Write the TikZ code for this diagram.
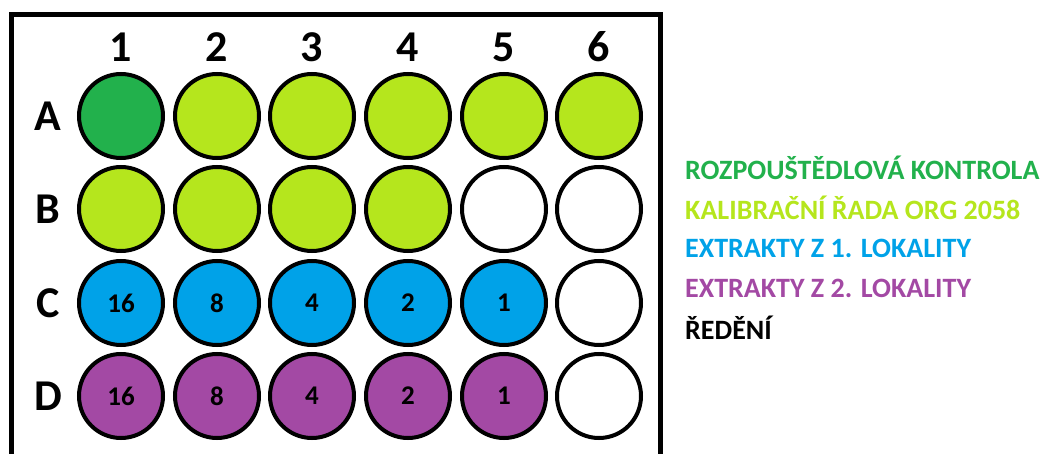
\documentclass[tikz,border=0pt]{standalone}
\usepackage{fontspec}
\setmainfont{Carlito}
\usepackage{xcolor}
\usepackage{tikz}

\definecolor{ctrl}{HTML}{22B14C}
\definecolor{calib}{HTML}{B5E61D}
\definecolor{siteone}{HTML}{00A2E8}
\definecolor{sitetwo}{HTML}{A349A4}

\begin{document}
\begin{tikzpicture}[
  x=1pt, y=-1pt, font=\bfseries,
  well/.style={draw, circle, line width=4pt, minimum size=84pt, inner sep=0pt, font=\fontsize{27}{27}\selectfont\bfseries},
  ctl/.style={well, fill=ctrl},
  cal/.style={well, fill=calib},
  ex1/.style={well, fill=siteone},
  ex2/.style={well, fill=sitetwo},
  emp/.style={well, fill=white},
  hdr/.style={font=\fontsize{44}{44}\selectfont\bfseries, inner sep=0pt},
  leg/.style={anchor=west, inner sep=0pt, font=\fontsize{28}{28}\selectfont\bfseries}]
  \useasboundingbox (0,0) rectangle (1041,454);
  \draw[line width=5pt] (11,470) |- (660,14.5) -- (660,470);
  % column and row headers
  \node[hdr] (c1) at (121,47) {1};
  \node[hdr] (c2) at (217,47) {2};
  \node[hdr] (c3) at (312,47) {3};
  \node[hdr] (c4) at (408,47) {4};
  \node[hdr] (c5) at (504,47) {5};
  \node[hdr] (c6) at (599,47) {6};
  \node[hdr] (rA) at (48,116) {A};
  \node[hdr] (rB) at (48,209) {B};
  \node[hdr] (rC) at (48,303) {C};
  \node[hdr] (rD) at (48,396) {D};
  % wells
  \node[ctl] (A1) at (121,116) {};
  \node[cal] (A2) at (217,116) {};
  \node[cal] (A3) at (312,116) {};
  \node[cal] (A4) at (408,116) {};
  \node[cal] (A5) at (504,116) {};
  \node[cal] (A6) at (599,116) {};
  \node[cal] (B1) at (121,209) {};
  \node[cal] (B2) at (217,209) {};
  \node[cal] (B3) at (312,209) {};
  \node[cal] (B4) at (408,209) {};
  \node[emp] (B5) at (504,209) {};
  \node[emp] (B6) at (599,209) {};
  \node[ex1] (C1) at (121,303) {16};
  \node[ex1] (C2) at (217,303) {8};
  \node[ex1] (C3) at (312,303) {4};
  \node[ex1] (C4) at (408,303) {2};
  \node[ex1] (C5) at (504,303) {1};
  \node[emp] (C6) at (599,303) {};
  \node[ex2] (D1) at (121,396) {16};
  \node[ex2] (D2) at (217,396) {8};
  \node[ex2] (D3) at (312,396) {4};
  \node[ex2] (D4) at (408,396) {2};
  \node[ex2] (D5) at (504,396) {1};
  \node[emp] (D6) at (599,396) {};
  % legend
  \node[leg, text=ctrl] (l1) at (685,168) {ROZPOUŠTĚDLOVÁ KONTROLA};
  \node[leg, text=calib] (l2) at (685,208) {KALIBRAČNÍ ŘADA ORG 2058};
  \node[leg, text=siteone] (l3) at (685,248) {EXTRAKTY Z 1. LOKALITY};
  \node[leg, text=sitetwo] (l4) at (685,288) {EXTRAKTY Z 2. LOKALITY};
  \node[leg] (l5) at (685,328) {ŘEDĚNÍ};
\end{tikzpicture}
\end{document}
